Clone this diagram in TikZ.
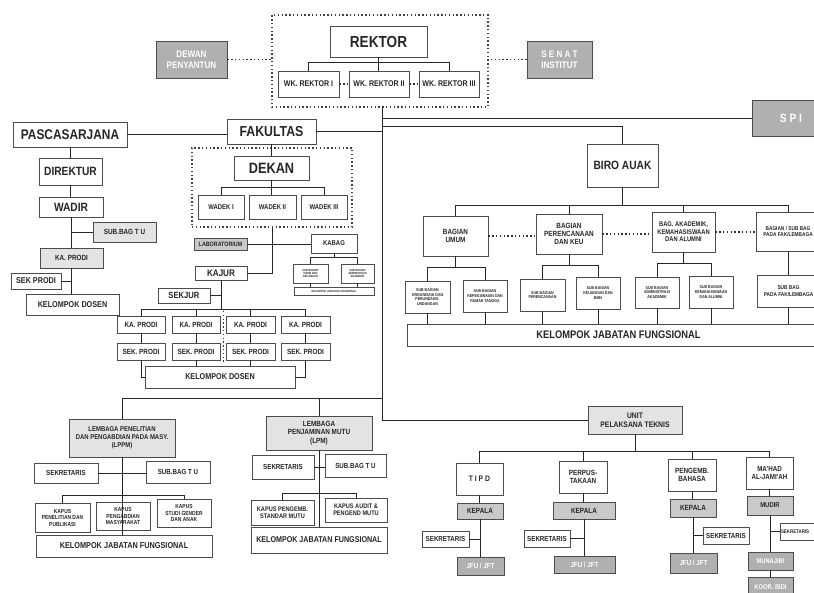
\documentclass[tikz,border=0pt]{standalone}
\usepackage{fontspec}
\setmainfont{Liberation Sans}[FakeStretch=0.85]
\newcommand\fsz[1]{\fontsize{#1}{#1}\selectfont\bfseries\linespread{1.12}\selectfont}
\newcommand\ob[7]{\node[#1,minimum width={(#5-#3)*1pt},minimum height={(#6-#4)*1pt}] (#2) at ({(#3+#5)/2},{(#4+#6)/2}) {#7};}
\tikzset{
  box/.style={draw=black!70,line width=0.8pt,fill=white,align=center,inner sep=0pt,text=black!85},
  gbox/.style={box,fill=gray!22},
  mbox/.style={box,fill=gray!42},
  dbox/.style={box,fill=gray!62,text=white},
  dotbox/.style={draw=black!75,line width=1.3pt,dash pattern=on 1.4pt off 2.4pt,inner sep=0pt},
  ln/.style={draw=black!85,line width=0.9pt},
  dl/.style={draw=black!80,line width=1.2pt,dash pattern=on 1.4pt off 2.4pt},
}
\begin{document}
\begin{tikzpicture}[x=1pt,y=-1pt]
\clip (0,0) rectangle (814,592);
\fill[white] (0,0) rectangle (814,592);
% ---------- top ----------
\ob{dotbox}{topbox}{272}{15}{488}{107}{}
\ob{box,font=\fsz{16}}{rektor}{330}{26}{427}{57}{REKTOR}
\ob{box,font=\fsz{8.3}}{wk1}{278}{71}{339}{97}{WK. REKTOR I}
\ob{box,font=\fsz{8.3}}{wk2}{349}{71}{409}{97}{WK. REKTOR II}
\ob{box,font=\fsz{8.3}}{wk3}{419}{71}{479}{97}{WK. REKTOR III}
\ob{dbox,font=\fsz{9.5}}{dewan}{156}{41}{227}{78}{DEWAN\\PENYANTUN}
\ob{dbox,font=\fsz{9.5}}{senat}{527}{41}{592}{78}{S E N A T\\INSTITUT}
\ob{dbox,font=\fsz{12}}{spibox}{752}{100}{830}{136}{S P I}
% ---------- pascasarjana ----------
\ob{box,font=\fsz{14}}{pasca}{13}{122}{127}{147}{PASCASARJANA}
\ob{box,font=\fsz{12}}{direktur}{39}{158}{102}{185}{DIREKTUR}
\ob{box,font=\fsz{12}}{wadir}{39}{197}{103}{217}{WADIR}
\ob{gbox,font=\fsz{7.5}}{subtu}{93}{222}{156}{242}{SUB.BAG T U}
\ob{gbox,font=\fsz{7.5}}{kaprodi}{40}{248}{103}{268}{KA. PRODI}
\ob{box,font=\fsz{8.5}}{sekprodi}{11}{273}{61}{289}{SEK PRODI}
\ob{box,font=\fsz{8.5}}{kdosen}{26}{294}{119}{315}{KELOMPOK DOSEN}
% ---------- fakultas ----------
\ob{box,font=\fsz{14.5}}{fak}{227}{119}{316}{144}{FAKULTAS}
\ob{dotbox}{fakbox}{192}{148}{352}{227}{}
\ob{box,font=\fsz{15}}{dekan}{234}{156}{309}{180}{DEKAN}
\ob{box,font=\fsz{7}}{wadek1}{198}{195}{244}{219}{WADEK I}
\ob{box,font=\fsz{7}}{wadek2}{249}{195}{296}{219}{WADEK II}
\ob{box,font=\fsz{7}}{wadek3}{301}{195}{347}{219}{WADEK III}
\ob{mbox,font=\fsz{6.3}}{lab}{194}{238}{247}{250}{LABORATORIUM}
\ob{box,font=\fsz{7}}{kabag}{311}{234}{357}{253}{KABAG}
\ob{box,font=\fsz{3}}{kb1}{293}{264}{328}{283}{SUB BAGIAN\\UMUM DAN\\KEUANGAN}
\ob{box,font=\fsz{3}}{kb2}{341}{264}{374}{283}{SUB BAGIAN\\ADMINISTRASI\\AKADEMIK}
\ob{box,font=\fsz{3}}{kb3}{294}{287}{374}{295}{KELOMPOK JABATAN FUNGSIONAL}
\ob{box,font=\fsz{9.5}}{kajur}{195}{266}{247}{280}{KAJUR}
\ob{box,font=\fsz{9}}{sekjur}{158}{288}{210}{303}{SEKJUR}
\ob{box,font=\fsz{7.5}}{kp1}{117}{316}{165}{333}{KA. PRODI}
\ob{box,font=\fsz{7.5}}{kp2}{172}{316}{220}{333}{KA. PRODI}
\ob{box,font=\fsz{7.5}}{kp3}{226}{316}{275}{333}{KA. PRODI}
\ob{box,font=\fsz{7.5}}{kp4}{281}{316}{330}{333}{KA. PRODI}
\ob{box,font=\fsz{7.5}}{sq1}{117}{343}{165}{360}{SEK. PRODI}
\ob{box,font=\fsz{7.5}}{sq2}{172}{343}{220}{360}{SEK. PRODI}
\ob{box,font=\fsz{7.5}}{sq3}{226}{343}{275}{360}{SEK. PRODI}
\ob{box,font=\fsz{7.5}}{sq4}{281}{343}{330}{360}{SEK. PRODI}
\ob{box,font=\fsz{8.5}}{kd}{145}{366}{295}{388}{KELOMPOK DOSEN}
% ---------- biro ----------
\ob{box,font=\fsz{12}}{biro}{587}{144}{658}{187}{BIRO AUAK}
\ob{box,font=\fsz{7.5}}{bag1}{423}{216}{488}{256}{BAGIAN\\UMUM}
\ob{box,font=\fsz{7.5}}{bag2}{536}{214}{602}{254}{BAGIAN\\PERENCANAAN\\DAN KEU}
\ob{box,font=\fsz{6.8}}{bag3}{652}{212}{715}{252}{BAG. AKADEMIK,\\KEMAHASISWAAN\\DAN ALUMNI}
\ob{box,font=\fsz{5.6}}{bag4}{756}{212}{820}{251}{BAGIAN / SUB BAG\\PADA FAK/LEMBAGA}
\ob{box,font=\fsz{4.2}}{sb11}{405}{281}{450}{313}{SUB BAGIAN\\ORGANISASI DAN\\PERUNDANG-\\UNDANGAN}
\ob{box,font=\fsz{4.2}}{sb12}{463}{280}{507}{312}{SUB BAGIAN\\KEPEGAWAIAN DAN\\RUMAH TANGGA}
\ob{box,font=\fsz{4.2}}{sb21}{520}{279}{565}{311}{SUB BAGIAN\\PERENCANAAN}
\ob{box,font=\fsz{4.2}}{sb22}{576}{277}{620}{309}{SUB BAGIAN\\KEUANGAN DAN\\BMN}
\ob{box,font=\fsz{4.2}}{sb31}{635}{277}{679}{308}{SUB BAGIAN\\ADMINISTRASI\\AKADEMIK}
\ob{box,font=\fsz{4.2}}{sb32}{689}{276}{733}{308}{SUB BAGIAN\\KEMAHASISWAAN\\DAN ALUMNI}
\ob{box,font=\fsz{5.6}}{sb4}{757}{275}{820}{307}{SUB BAG\\PADA FAK/LEMBAGA}
\ob{box,font=\fsz{11}}{kjfb}{407}{324}{830}{346}{KELOMPOK JABATAN FUNGSIONAL}
% ---------- LPPM ----------
\ob{gbox,font=\fsz{7}}{lppm}{69}{419}{175}{457}{LEMBAGA PENELITIAN\\DAN PENGABDIAN PADA MASY.\\(LPPM)}
\ob{box,font=\fsz{7.3}}{sek1}{34}{463}{98}{483}{SEKRETARIS}
\ob{box,font=\fsz{7.3}}{stu1}{146}{461}{210}{483}{SUB.BAG T U}
\ob{box,font=\fsz{5.8}}{kap11}{35}{503}{90}{532}{KAPUS\\PENELITIAN DAN\\PUBLIKASI}
\ob{box,font=\fsz{5.8}}{kap12}{96}{502}{150}{530}{KAPUS\\PENGABDIAN\\MASYARAKAT}
\ob{box,font=\fsz{5.8}}{kap13}{157}{499}{211}{527}{KAPUS\\STUDI GENDER\\DAN ANAK}
\ob{box,font=\fsz{8.6}}{kjf1}{36}{535}{212}{557}{KELOMPOK JABATAN FUNGSIONAL}
% ---------- LPM ----------
\ob{gbox,font=\fsz{7.5}}{lpm}{266}{416}{372}{450}{LEMBAGA\\PENJAMINAN MUTU\\(LPM)}
\ob{box,font=\fsz{7.3}}{sek2}{252}{455}{314}{479}{SEKRETARIS}
\ob{box,font=\fsz{7.3}}{stu2}{325}{454}{386}{477}{SUB.BAG T U}
\ob{box,font=\fsz{6.6}}{kap21}{251}{500}{314}{525}{KAPUS PENGEMB.\\STANDAR MUTU}
\ob{box,font=\fsz{6.6}}{kap22}{325}{498}{387}{522}{KAPUS AUDIT \&\\PENGEND MUTU}
\ob{box,font=\fsz{8.4}}{kjf2}{251}{527}{387}{553}{KELOMPOK JABATAN FUNGSIONAL}
% ---------- UPT ----------
\ob{gbox,font=\fsz{8}}{upt}{588}{406}{682}{434}{UNIT\\PELAKSANA TEKNIS}
\ob{box,font=\fsz{8}}{tipd}{456}{463}{503}{495}{T I P D}
\ob{box,font=\fsz{7.5}}{perpus}{559}{461}{607}{493}{PERPUS-\\TAKAAN}
\ob{box,font=\fsz{7.5}}{bahasa}{668}{459}{716}{491}{PENGEMB.\\BAHASA}
\ob{box,font=\fsz{7.3}}{mahad}{746}{457}{793}{489}{MA'HAD\\AL-JAMI'AH}
\ob{mbox,font=\fsz{7.5}}{kep1}{457}{503}{503}{519}{KEPALA}
\ob{box,font=\fsz{7.3}}{sek31}{422}{531}{469}{547}{SEKRETARIS}
\ob{dbox,font=\fsz{7.3}}{jfu1}{457}{557}{504}{575}{JFU / JFT}
\ob{mbox,font=\fsz{7.5}}{kep2}{553}{502}{615}{519}{KEPALA}
\ob{box,font=\fsz{7.3}}{sek32}{524}{530}{570}{547}{SEKRETARIS}
\ob{dbox,font=\fsz{7.3}}{jfu2}{554}{556}{615}{573}{JFU / JFT}
\ob{mbox,font=\fsz{7.5}}{kep3}{670}{499}{716}{517}{KEPALA}
\ob{box,font=\fsz{7.3}}{sek33}{703}{527}{749}{544}{SEKRETARIS}
\ob{dbox,font=\fsz{7.3}}{jfu3}{670}{553}{717}{573}{JFU / JFT}
\ob{mbox,font=\fsz{7}}{mudir}{747}{496}{793}{515}{MUDIR}
\node[box,font=\fsz{5.2},minimum width=56pt,minimum height=17pt,text width=54pt,align=left] (sek34) at (808,531.5) {SEKRETARIS};
\ob{dbox,font=\fsz{6.8}}{muna}{748}{552}{793}{570}{MUNAJIBI}
\ob{dbox,font=\fsz{6.8}}{koor}{748}{577}{793}{597}{KOOR. BIDI}
% ---------- connectors: top ----------
\draw[ln] (rektor.south) -- ++(0,5) -| (wk1.north);
\draw[ln] (rektor.south) -- ++(0,5) -| (wk3.north);
\draw[ln] (rektor.south) -- (rektor.south |- wk2.north);
\draw[dl] (wk1.east) -- (wk2.west);
\draw[dl] (wk2.east) -- (wk3.west);
\draw[dl] (dewan.east) -- (dewan.east -| topbox.west);
\draw[dl] (senat.west) -- (senat.west -| topbox.east);
% spine
\coordinate (spt) at (382,107);
\coordinate (spb) at (382,398);
\coordinate (bj) at (382,126);
\draw[ln] (spt) -- (spb);
\draw[ln] (spt |- spibox.west) -- (spibox.west);
\draw[ln] (bj) -| (biro.north);
\draw[ln] (fak.east) -- (fak.east -| spt);
\draw[ln] (pasca.east) -- (pasca.east -| fak.west);
% pasca
\draw[ln] (direktur.north |- pasca.south) -- (direktur.north);
\draw[ln] (direktur.south) -- (direktur.south |- wadir.north);
\draw[ln] (wadir.south) -- (wadir.south |- kaprodi.north);
\draw[ln] (wadir.south |- subtu.west) -- (subtu.west);
\draw[ln] (kaprodi.south) -- (kaprodi.south |- kdosen.north);
\draw[ln] (kaprodi.south |- sekprodi.east) -- (sekprodi.east);
% fakultas
\draw[ln] (fak.south) -- (fak.south |- dekan.north);
\draw[ln] (dekan.south) -- ++(0,7) -| (wadek1.north);
\draw[ln] (dekan.south) -- ++(0,7) -| (wadek3.north);
\draw[ln] (dekan.south) -- (dekan.south |- wadek2.north);
\draw[ln] (fakbox.south) |- (kajur.east);
\draw[ln] (lab.east) -- (lab.east -| kabag.west);
\draw[ln] (kabag.south) -- ++(0,4) -| (kb1.north);
\draw[ln] (kabag.south) -- ++(0,4) -| (kb2.north);
\draw[ln] (kb1.south) -- (kb1.south |- kb3.north);
\draw[ln] (kb2.south) -- (kb2.south |- kb3.north);
\draw[ln] (kajur.south |- sekjur.east) -- (sekjur.east);
\foreach \k in {1,2,3,4}{
  \draw[ln] (kajur.south) -- ++(0,29) -| (kp\k.north);
  \draw[ln] (kp\k.south) -- (sq\k.north);
}
\draw[ln] (sq2.south) -- (sq2.south |- kd.north);
\draw[ln] (sq3.south) -- (sq3.south |- kd.north);
\draw[ln] (sq1.south) |- (kd.west);
\draw[ln] (sq4.south) |- (kd.east);
\coordinate (dv1) at (223,311);
\coordinate (dv2) at (223,362);
\draw[dl,line width=1pt] (dv1) -- (dv2);
% biro
\foreach \k in {1,2,3,4}{\draw[ln] (biro.south) -- ++(0,18) -| (bag\k.north);}
\draw[dl] (bag1.east) -- (bag1.east -| bag2.west);
\draw[dl] (bag2.east) -- (bag2.east -| bag3.west);
\draw[dl] (bag3.east) -- (bag3.east -| bag4.west);
\foreach \k in {1,2,3}{
  \draw[ln] (bag\k.south) -- ++(0,11) -| (sb\k1.north);
  \draw[ln] (bag\k.south) -- ++(0,11) -| (sb\k2.north);
  \draw[ln] (sb\k1.south) -- (sb\k1.south |- kjfb.north);
  \draw[ln] (sb\k2.south) -- (sb\k2.south |- kjfb.north);
}
\draw[ln] (bag4.south) -- (bag4.south |- sb4.north);
\draw[ln] (sb4.south) -- (sb4.south |- kjfb.north);
% bottom spine
\draw[ln] (spb) -- (spb -| lppm.north) -- (lppm.north);
\draw[ln] (spb -| lpm.north) -- (lpm.north);
\draw[ln] (spb) |- (upt.west);
% LPPM
\draw[ln] (lppm.south) -- (lppm.south |- kjf1.north);
\draw[ln] (sek1.east) -- (sek1.east -| stu1.west);
\draw[ln] (lppm.south) -- ++(0,38) -| (kap11.north);
\draw[ln] (lppm.south) -- ++(0,38) -| (kap13.north);
% LPM
\draw[ln] (lpm.south) -- (lpm.south |- kjf2.north);
\draw[ln] (sek2.east) -- (sek2.east -| stu2.west);
\draw[ln] (lpm.south) -- ++(0,43) -| (kap21.north);
\draw[ln] (lpm.south) -- ++(0,43) -| (kap22.north);
% UPT
\foreach \u in {tipd,perpus,bahasa,mahad}{\draw[ln] (upt.south) -- ++(0,17) -| (\u.north);}
\draw[ln] (tipd.south) -- (tipd.south |- kep1.north);
\draw[ln] (kep1.south) -- (kep1.south |- jfu1.north);
\draw[ln] (kep1.south |- sek31.east) -- (sek31.east);
\draw[ln] (perpus.south) -- (perpus.south |- kep2.north);
\draw[ln] (kep2.south) -- (kep2.south |- jfu2.north);
\draw[ln] (kep2.south |- sek32.east) -- (sek32.east);
\draw[ln] (bahasa.south) -- (bahasa.south |- kep3.north);
\draw[ln] (kep3.south) -- (kep3.south |- jfu3.north);
\draw[ln] (kep3.south |- sek33.west) -- (sek33.west);
\draw[ln] (mahad.south) -- (mahad.south |- mudir.north);
\draw[ln] (mudir.south) -- (mudir.south |- muna.north);
\draw[ln] (mudir.south |- sek34.west) -- (sek34.west);
\draw[ln] (muna.south) -- (muna.south |- koor.north);
\end{tikzpicture}
\end{document}
